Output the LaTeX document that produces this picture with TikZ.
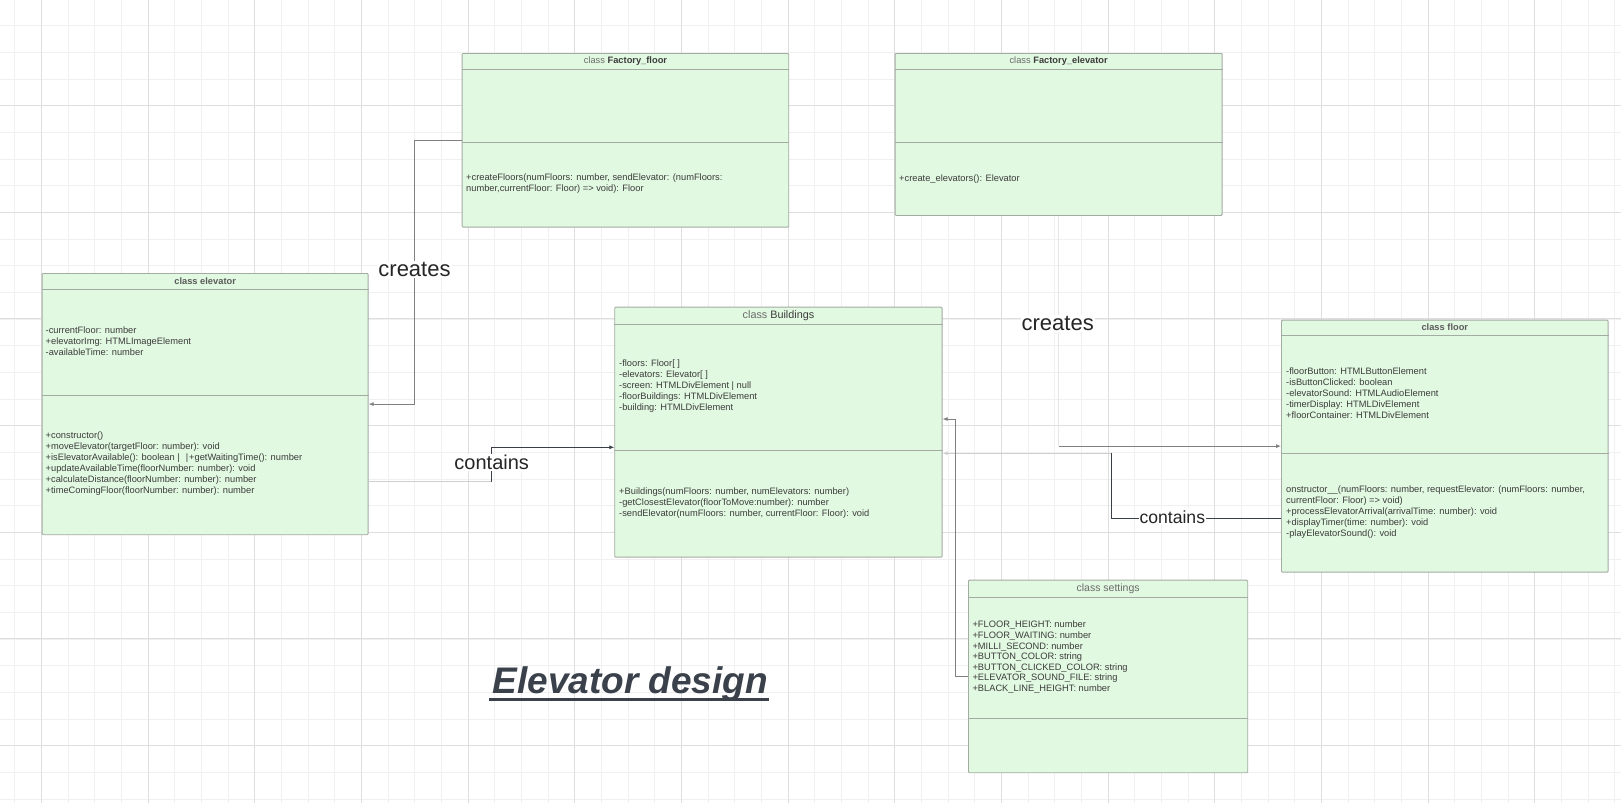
\documentclass[tikz,border=0pt]{standalone}
\usepackage{fontspec}
\setmainfont{Liberation Sans}
\usetikzlibrary{arrows.meta}
\definecolor{gridminor}{HTML}{F0F0F0}
\definecolor{gridmajor}{HTML}{DEDEDE}
\definecolor{boxfill}{HTML}{E1F8E1}
\definecolor{boxline}{HTML}{A3ABA3}
\definecolor{txt}{HTML}{3C3C3C}
\definecolor{ttlgray}{HTML}{6B6B6B}
\definecolor{conn}{HTML}{808080}
\definecolor{connlight}{HTML}{CFCFCF}
\definecolor{connfaint}{HTML}{E6E6E6}
\definecolor{conndark}{HTML}{3A3F47}
\definecolor{titlec}{HTML}{3A414B}
\begin{document}
\begin{tikzpicture}[x=1pt,y=-1pt,
  classbox/.style={draw=boxline, fill=boxfill, line width=0.9pt, rounded corners=1pt, anchor=north west, inner sep=0pt},
  divider/.style={draw=boxline, line width=0.9pt},
  ttl/.style={font=\fontsize{9.3}{11}\selectfont, text=txt, inner sep=0pt},
  members/.style={font=\fontsize{9.3}{11}\selectfont, text=txt, align=left, anchor=west, inner sep=0pt},
  lbl/.style={fill=white, inner sep=1pt, text=black!85},
  arr/.style={-{Latex[length=5pt,width=4pt]}},
  connline/.style={draw=conn, line width=0.8pt},
  lightline/.style={draw=connlight, line width=0.9pt},
  darkline/.style={draw=conndark, line width=0.9pt}]
\useasboundingbox (0,0) rectangle (1621,803);
\fill[white] (0,0) rectangle (1621,803);
% grid
\begin{scope}
\clip (0,0) rectangle (1621,803);
\foreach \i in {0,...,60} {
  \pgfmathsetmacro\gx{14.8+26.667*\i}
  \draw[gridminor, line width=0.8pt] (\gx,0) -- (\gx,803);
}
\foreach \j in {1,...,30} {
  \pgfmathsetmacro\gy{-1.07+26.667*\j}
  \draw[gridminor, line width=0.8pt] (0,\gy) -- (1621,\gy);
}
\foreach \i in {0,...,14} {
  \pgfmathsetmacro\gx{41.5+106.667*\i}
  \draw[gridmajor, line width=0.9pt] (\gx,0) -- (\gx,803);
}
\foreach \j in {0,...,6} {
  \pgfmathsetmacro\gy{105.6+106.667*\j}
  \draw[gridmajor, line width=0.9pt] (0,\gy) -- (1621,\gy);
}
\end{scope}

% ---------- class Factory_floor
\node[classbox, minimum width=326.6pt, minimum height=173.7pt] (ffloor) at (461.7,53) {};
\draw[divider] (ffloor.west |- 0,69) -- (ffloor.east |- 0,69);
\draw[divider] (ffloor.west |- 0,142.7) -- (ffloor.east |- 0,142.7);
\node[ttl] (ffloor-t) at (ffloor.north |- 0,61) {\textcolor{ttlgray}{class} \textbf{Factory\_floor}};
\node[members] (ffloor-m) at (466,183.9) {+createFloors(numFloors: number, sendElevator: (numFloors:\\number,currentFloor: Floor) => void): Floor};

% ---------- class Factory_elevator
\node[classbox, minimum width=327pt, minimum height=162pt] (fel) at (894.7,53) {};
\draw[divider] (fel.west |- 0,69) -- (fel.east |- 0,69);
\draw[divider] (fel.west |- 0,142.7) -- (fel.east |- 0,142.7);
\node[ttl] (fel-t) at (fel.north |- 0,61) {\textcolor{ttlgray}{class} \textbf{Factory\_elevator}};
\node[members] (fel-m) at (899,178.6) {+create\_elevators(): Elevator};

% ---------- class elevator
\node[classbox, minimum width=326pt, minimum height=261.3pt] (elev) at (41.7,273) {};
\draw[divider] (elev.west |- 0,289) -- (elev.east |- 0,289);
\draw[divider] (elev.west |- 0,395) -- (elev.east |- 0,395);
\node[ttl, text=ttlgray!85!black] (elev-t) at (elev.north |- 0,281) {\textbf{class elevator}};
\node[members] (elev-a) at (45.5,341.5) {-currentFloor: number\\+elevatorImg: HTMLImageElement\\-availableTime: number};
\node[members] (elev-m) at (45.5,464) {+constructor()\\+moveElevator(targetFloor: number): void\\+isElevatorAvailable(): boolean\hspace{2.5pt}|\hspace{6pt}|\hspace{1pt}+getWaitingTime(): number\\+updateAvailableTime(floorNumber: number): void\\+calculateDistance(floorNumber: number): number\\+timeComingFloor(floorNumber: number): number};

% ---------- class Buildings
\node[classbox, minimum width=327.4pt, minimum height=250pt] (build) at (614.3,306.7) {};
\draw[divider] (build.west |- 0,324.3) -- (build.east |- 0,324.3);
\draw[divider] (build.west |- 0,450.3) -- (build.east |- 0,450.3);
\node[ttl, font=\fontsize{10.8}{12}\selectfont] (build-t) at (build.north |- 0,315.3) {\textcolor{ttlgray}{class} Buildings};
\node[members] (build-a) at (619,386.3) {-floors: Floor[ ]\\-elevators: Elevator[ ]\\-screen: HTMLDivElement | null\\-floorBuildings: HTMLDivElement\\-building: HTMLDivElement};
\node[members] (build-m) at (619,502.8) {+Buildings(numFloors: number, numElevators: number)\\-getClosestElevator(floorToMove:number): number\\-sendElevator(numFloors: number, currentFloor: Floor): void};

% ---------- class floor
\node[classbox, minimum width=326.7pt, minimum height=252pt] (floor) at (1281,319.7) {};
\draw[divider] (floor.west |- 0,335.7) -- (floor.east |- 0,335.7);
\draw[divider] (floor.west |- 0,453.3) -- (floor.east |- 0,453.3);
\node[ttl, text=ttlgray!85!black] (floor-t) at (floor.north |- 0,327.5) {\textbf{class floor}};
\node[members] (floor-a) at (1286,393.6) {-floorButton: HTMLButtonElement\\-isButtonClicked: boolean\\-elevatorSound: HTMLAudioElement\\-timerDisplay: HTMLDivElement\\+floorContainer: HTMLDivElement};
\node[members] (floor-m) at (1286,512) {onstructor\_\_(numFloors: number, requestElevator: (numFloors: number,\\currentFloor: Floor) => void)\\+processElevatorArrival(arrivalTime: number): void\\+displayTimer(time: number): void\\-playElevatorSound(): void};

% ---------- class settings
\node[classbox, minimum width=279.3pt, minimum height=192.6pt] (settings) at (968,579.7) {};
\draw[divider] (settings.west |- 0,597.7) -- (settings.east |- 0,597.7);
\draw[divider] (settings.west |- 0,718.3) -- (settings.east |- 0,718.3);
\node[ttl, font=\fontsize{10.5}{12}\selectfont, text=ttlgray] (settings-t) at (settings.north |- 0,588.5) {class settings};
\node[members, font=\fontsize{9.3}{10.62}\selectfont] (settings-a) at (972.3,657.2) {+FLOOR\_HEIGHT: number\\+FLOOR\_WAITING: number\\+MILLI\_SECOND: number\\+BUTTON\_COLOR: string\\+BUTTON\_CLICKED\_COLOR: string\\+ELEVATOR\_SOUND\_FILE: string\\+BLACK\_LINE\_HEIGHT: number};

% ---------- connectors
% Factory_floor creates elevator
\coordinate (k1) at (414.7,0);
\draw[connline, arr] (ffloor.west) -| (k1 |- elev.east) -- (elev.east);
\node[lbl, font=\fontsize{22}{24}\selectfont] (cr1) at (414.5,269.3) {creates};

% elevator contains -> Buildings
\coordinate (k2) at (491,0);
\draw[lightline] (elev.east |- 0,481.7) -- (k2 |- 0,481.7);
\draw[darkline, arr] (k2 |- 0,481.7) |- (build.west |- 0,447.3);
\node[lbl, font=\fontsize{20}{22}\selectfont] (ct1) at (491.7,462.7) {contains};

% Factory_elevator creates floor
\draw[draw=connfaint, line width=1.6pt] (fel.south) -- (fel.south |- floor.west);
\draw[connline, arr] (fel.south |- floor.west) -- (floor.west);
\node[lbl, font=\fontsize{22}{24}\selectfont] (cr2) at (1057.7,323.3) {creates};

% floor contains -> Buildings
\coordinate (k4) at (1111,0);
\draw[darkline] (floor.west |- 0,518.3) -| (k4 |- 0,453.3);
\draw[lightline, arr] (k4 |- 0,453.3) -- (build.east |- 0,453.3);
\node[lbl, font=\fontsize{17.6}{20}\selectfont] (ct2) at (1172.3,516.8) {contains};

% settings -> Buildings
\coordinate (k5) at (955,0);
\draw[connline, arr] (settings.west) -| (k5 |- 0,419) -- (build.east |- 0,419);

% ---------- title
\node[anchor=base, inner sep=0pt, text=titlec, font=\fontsize{37}{42}\selectfont\bfseries\itshape] (title) at (630.3,693.3) {Elevator design};
\draw[titlec, line width=3pt] ([xshift=-3pt]title.west |- 0,699.5) -- ([xshift=1pt]title.east |- 0,699.5);
\end{tikzpicture}
\end{document}
